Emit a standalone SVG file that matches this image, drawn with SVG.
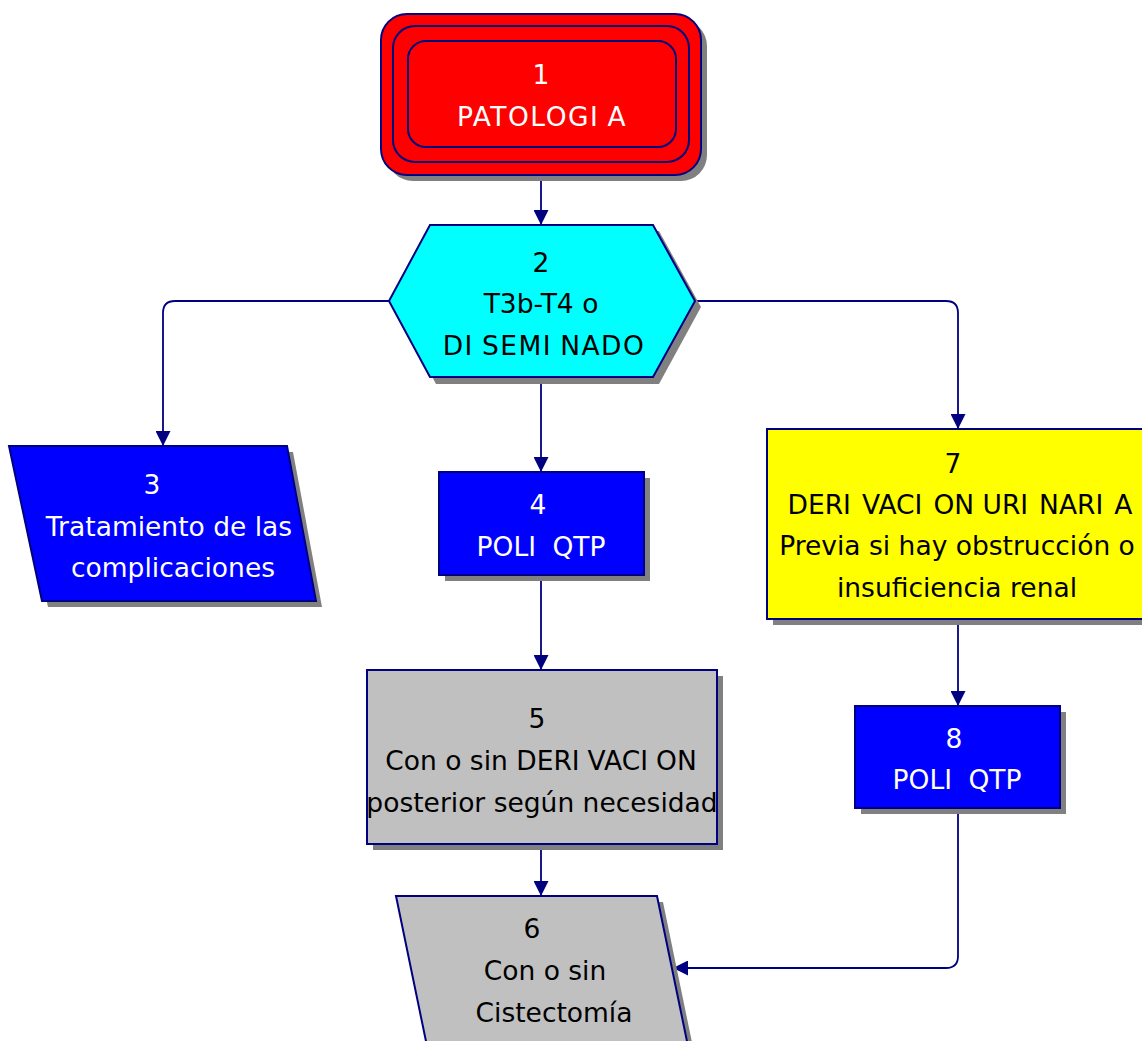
<svg xmlns="http://www.w3.org/2000/svg" width="1142" height="1041" viewBox="0 0 1142 1041">
  <style>
    .lbl { font-family: "DejaVu Sans", "Liberation Sans", sans-serif; font-size: 26.5px; text-anchor: middle; }
    .wide { letter-spacing: 1.5px; }
    .w { fill: #ffffff; }
    .k { fill: #000000; }
    .sh { fill: #808080; }
    .edge { stroke: #000080; stroke-width: 2; }
    .wire { fill: none; stroke: #000080; stroke-width: 1.8; marker-end: url(#arrow); }
  </style>
  <defs>
    <marker id="arrow" markerUnits="userSpaceOnUse" markerWidth="15" markerHeight="15" refX="15" refY="7.5" orient="auto">
      <path d="M0,0 L15,7.5 L0,15 z" fill="#000080"/>
    </marker>
  </defs>
  <rect width="1142" height="1041" fill="#ffffff"/>

  <!-- connectors -->
  <g id="connectors">
    <path class="wire" d="M541,175 V225"/>
    <path class="wire" d="M389,301 H175 Q163,301 163,313 V446"/>
    <path class="wire" d="M541,378 V472"/>
    <path class="wire" d="M695,301 H946 Q958,301 958,313 V429"/>
    <path class="wire" d="M541,575 V670"/>
    <path class="wire" d="M958,619 V706"/>
    <path class="wire" d="M541,844 V896"/>
    <path class="wire" d="M958,808 V956 Q958,968 946,968 H673"/>
  </g>

  <!-- 1: start terminal -->
  <g id="node1">
    <rect class="sh" x="387" y="20" width="320" height="161" rx="26"/>
    <rect class="edge" x="381" y="14" width="320" height="161" rx="26" fill="#ff0000"/>
    <rect class="edge" x="393" y="26" width="296" height="136" rx="22" fill="none"/>
    <rect class="edge" x="408" y="41" width="268" height="106" rx="18" fill="none"/>
    <text class="lbl w" x="541" y="84">1</text>
    <text class="lbl w wide" x="542" y="126">PATOLOGI<tspan dx="8">A</tspan></text>
  </g>

  <!-- 2: decision hexagon -->
  <g id="node2">
    <polygon class="sh" points="436,231 659,231 701,307 659,384 436,384 395,307"/>
    <polygon class="edge" points="430,225 653,225 695,301 653,377 430,377 389,301" fill="#00ffff"/>
    <text class="lbl k" x="541" y="272">2</text>
    <text class="lbl k" x="541" y="313">T3b-T4 o</text>
    <text class="lbl k wide" x="544" y="355">DI<tspan dx="8">SEMI</tspan><tspan dx="8">NADO</tspan></text>
  </g>

  <!-- 3: complications -->
  <g id="node3">
    <polygon class="sh" points="15,452 293,452 322,607 48,607"/>
    <polygon class="edge" points="9,446 287,446 316,601 42,601" fill="#0000ff"/>
    <text class="lbl w" x="152" y="494">3</text>
    <text class="lbl w" x="169" y="536">Tratamiento de las</text>
    <text class="lbl w" x="173" y="577">complicaciones</text>
  </g>

  <!-- 4: chemotherapy -->
  <g id="node4">
    <rect class="sh" x="445" y="478" width="205" height="103"/>
    <rect class="edge" x="439" y="472" width="205" height="103" fill="#0000ff"/>
    <text class="lbl w" x="538" y="514">4</text>
    <text class="lbl w" x="541" y="556">POLI<tspan dx="8"> QTP</tspan></text>
  </g>

  <!-- 5: optional diversion -->
  <g id="node5">
    <rect class="sh" x="373" y="676" width="350" height="174"/>
    <rect class="edge" x="367" y="670" width="350" height="174" fill="#c0c0c0"/>
    <text class="lbl k" x="537" y="728">5</text>
    <text class="lbl k" x="541" y="770">Con o sin DERI<tspan dx="8">VACI</tspan><tspan dx="8">ON</tspan></text>
    <text class="lbl k" x="542" y="812">posterior según necesidad</text>
  </g>

  <!-- 6: cystectomy -->
  <g id="node6">
    <polygon class="sh" points="402,902 663,902 695,1057 434,1057"/>
    <polygon class="edge" points="396,896 657,896 689,1051 428,1051" fill="#c0c0c0"/>
    <text class="lbl k" x="532" y="938">6</text>
    <text class="lbl k" x="545" y="980">Con o sin</text>
    <text class="lbl k" x="554" y="1022">Cistectomía</text>
  </g>

  <!-- 7: urinary diversion -->
  <g id="node7">
    <rect class="sh" x="773" y="435" width="381" height="190"/>
    <rect class="edge" x="767" y="429" width="381" height="190" fill="#ffff00"/>
    <text class="lbl k" x="953" y="473">7</text>
    <text class="lbl k" x="960" y="514">DERI<tspan dx="11">VACI</tspan><tspan dx="11">ON URI</tspan><tspan dx="11">NARI</tspan><tspan dx="11">A</tspan></text>
    <text class="lbl k" x="957" y="555">Previa si hay obstrucción o</text>
    <text class="lbl k" x="957" y="597">insuficiencia renal</text>
  </g>

  <!-- 8: chemotherapy -->
  <g id="node8">
    <rect class="sh" x="861" y="712" width="205" height="102"/>
    <rect class="edge" x="855" y="706" width="205" height="102" fill="#0000ff"/>
    <text class="lbl w" x="954" y="748">8</text>
    <text class="lbl w" x="957" y="789">POLI<tspan dx="8"> QTP</tspan></text>
  </g>
</svg>
